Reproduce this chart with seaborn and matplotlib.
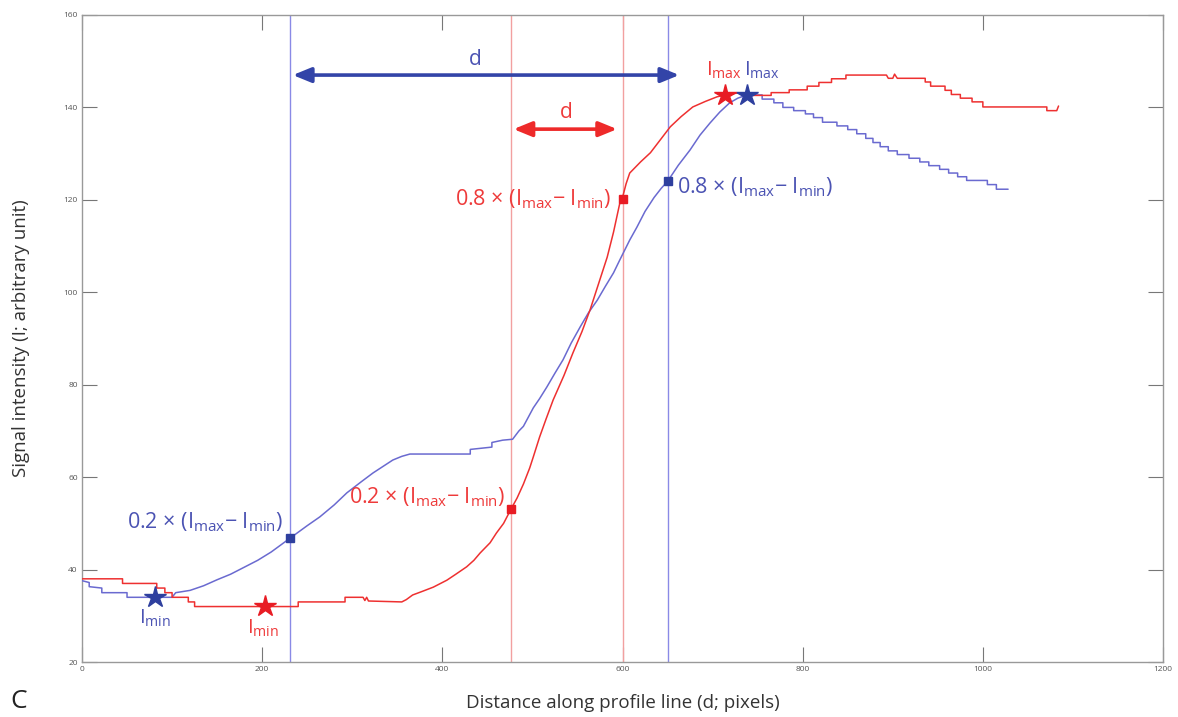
import matplotlib
matplotlib.use("Agg")
import matplotlib.pyplot as plt
import seaborn as sns
import pandas as pd

# Intensity profiles (distance in pixels, intensity in arbitrary units).
# Repeated x values give the vertical risers of the quantised profile.
blue_x = [0, 8, 8, 22, 22, 50, 50, 100, 104, 120, 135, 150, 165, 180, 195, 210,
          231, 250, 264, 280, 294, 310, 323, 345, 355, 364, 431, 431, 455, 455,
          467, 478, 485, 490, 501, 508, 516, 525, 534, 543, 553, 562, 572, 581,
          590, 597, 608, 616, 625, 635, 643, 650, 662, 675, 686, 697, 708, 719,
          728, 738, 748, 755, 755, 768, 768, 778, 778, 790, 790, 803, 803, 812,
          812, 822, 822, 838, 838, 850, 850, 860, 860, 870, 870, 878, 878, 886,
          886, 895, 895, 905, 905, 918, 918, 930, 930, 940, 940, 952, 952, 962,
          962, 972, 972, 982, 982, 1005, 1005, 1015, 1015, 1028]
blue_y = [37.6, 37.2, 36.3, 36, 35, 35, 34, 34, 35, 35.5, 36.5, 37.8, 39, 40.5, 42, 43.8,
          46.8, 49.5, 51.4, 54, 56.6, 59, 60.9, 63.7, 64.5, 65, 65, 66, 66.5, 67.5,
          68, 68.2, 70, 71, 75, 77, 79.5, 82.5, 85.4, 89, 92.5, 95.5, 98.3, 101.3,
          104.2, 107, 111.3, 114.1, 117.5, 120.5, 122.5, 124, 127.5, 130.8, 134, 136.6, 139, 141,
          142, 142.7, 142.7, 142.7, 141.8, 141.8, 141, 141, 140, 140, 139.3, 139.3, 138.6, 138.6,
          137.8, 137.8, 136.8, 136.8, 136, 136, 135.2, 135.2, 134.3, 134.3, 133.3, 133.3, 132.4, 132.4,
          131.5, 131.5, 130.6, 130.6, 129.8, 129.8, 129, 129, 128.2, 128.2, 127.4, 127.4, 126.6, 126.6,
          125.8, 125.8, 125, 125, 124.2, 124.2, 123.3, 123.3, 122.3, 122.3]

red_x = [0, 45, 45, 83, 83, 92, 92, 100, 100, 118, 118, 125, 125, 240, 240, 292,
         292, 312, 314, 316, 318, 355, 360, 367, 378, 390, 405, 415, 427, 435, 442,
         453, 460, 468, 476, 483, 490, 497, 501, 508, 515, 523, 535, 545, 555, 564,
         572, 583, 590, 597, 600, 604, 608, 620, 631, 642, 653, 665, 678, 692, 705,
         714, 727, 745, 745, 765, 765, 785, 785, 805, 805, 818, 818, 832, 832, 848,
         848, 893, 895, 900, 902, 905, 936, 936, 942, 942, 958, 958, 965, 965, 975,
         975, 988, 988, 1000, 1000, 1071, 1071, 1082, 1084]
red_y = [38, 38, 37, 37, 36, 36, 35, 35, 34, 34, 33, 33, 32, 32, 33, 33,
         34, 34, 33.3, 34, 33.2, 33, 33.5, 34.5, 35.3, 36.2, 37.7, 39, 40.6, 42, 43.6,
         45.8, 47.9, 50, 53, 55.5, 58.5, 62, 64.4, 68.7, 72.5, 76.7, 82, 86.9, 91.5, 96.2,
         101, 107.6, 113, 119.3, 120.5, 123.5, 125.8, 128.2, 130.2, 133, 135.8, 138, 140.1, 141.3, 142.3,
         142.7, 143.1, 143, 142.6, 142.6, 143.2, 143.2, 143.8, 143.8, 144.6, 144.6, 145.4, 145.4, 146.2, 146.2,
         147, 147, 146.3, 146.3, 147.2, 146.3, 146.3, 145.5, 145.5, 144.6, 144.6, 143.7, 143.7, 142.8, 142.8,
         142, 142, 141.2, 141.2, 140.1, 140.1, 139.3, 139.3, 140.3]

# Extremes and 20 % / 80 % crossing points
blue_min = (81, 34.1)
blue_max = (738, 142.7)
red_min = (203, 32.1)
red_max = (714, 142.7)
blue_p20 = (231, 46.8)
blue_p80 = (650, 124.1)
red_p20 = (476, 53.1)
red_p80 = (600, 120.2)

x_ticks = [0, 200, 400, 600, 800, 1000, 1200]
y_ticks = [20, 40, 60, 80, 100, 120, 140, 160]

BLUE_LINE = "#6a6ad0"
BLUE_MARK = "#2e3f9e"
BLUE_TEXT = "#4b53b3"
RED_LINE = "#ee3030"
RED_MARK = "#e81c24"
RED_TEXT = "#ee3a3a"

sns.set_style("white")
plt.rcParams["font.family"] = ["Open Sans", "DejaVu Sans"]
plt.rcParams["mathtext.default"] = "regular"

fig = plt.figure(figsize=(11.78, 7.17), dpi=100)
ax = fig.add_axes([0.0696, 0.0767, 0.9177, 0.9024])

blue_df = pd.DataFrame({"d": blue_x, "I": blue_y})
red_df = pd.DataFrame({"d": red_x, "I": red_y})
sns.lineplot(data=blue_df, x="d", y="I", ax=ax, color=BLUE_LINE, lw=1.1,
             sort=False, estimator=None, zorder=3)
sns.lineplot(data=red_df, x="d", y="I", ax=ax, color=RED_LINE, lw=1.1,
             sort=False, estimator=None, zorder=3)

# Boundaries of the transition zone
ax.axvline(blue_p20[0], color="#8a8ae6", lw=1.0, zorder=2)
ax.axvline(blue_p80[0], color="#8a8ae6", lw=1.0, zorder=2)
ax.axvline(red_p20[0], color="#f2a0a0", lw=1.0, zorder=2)
ax.axvline(red_p80[0], color="#f2a0a0", lw=1.0, zorder=2)

# Extremes (stars) and crossing points (squares)
ax.plot(*blue_min, marker="*", ms=16, color=BLUE_MARK, zorder=5)
ax.plot(*blue_max, marker="*", ms=16, color=BLUE_MARK, zorder=5)
ax.plot(*red_min, marker="*", ms=16, color=RED_MARK, zorder=5)
ax.plot(*red_max, marker="*", ms=16, color=RED_MARK, zorder=5)
for p in (blue_p20, blue_p80):
    ax.plot(*p, marker="s", ms=6, color=BLUE_MARK, zorder=5)
for p in (red_p20, red_p80):
    ax.plot(*p, marker="s", ms=6, color=RED_MARK, zorder=5)

# Width arrows
ax.annotate("", xy=(blue_p20[0] + 3, 147), xytext=(blue_p80[0] + 13, 147),
            arrowprops=dict(arrowstyle="<|-|>,head_length=1.1,head_width=0.45",
                            color="#3344a8", lw=2.6, shrinkA=0, shrinkB=0))
ax.annotate("", xy=(red_p20[0] + 3, 135.3), xytext=(red_p80[0] - 6, 135.3),
            arrowprops=dict(arrowstyle="<|-|>,head_length=1.1,head_width=0.45",
                            color="#ee2a2a", lw=2.6, shrinkA=0, shrinkB=0))
ax.text(436, 150.3, "d", color=BLUE_TEXT, fontsize=15, ha="center", va="center")
ax.text(537, 138.8, "d", color=RED_TEXT, fontsize=15, ha="center", va="center")

fs = 15.5
lab = " × (I$_{max}$− I$_{min}$)"
ax.text(223, 50.3, "0.2" + lab, color=BLUE_TEXT, fontsize=fs, ha="right", va="center")
ax.text(470, 55.7, "0.2" + lab, color=RED_TEXT, fontsize=fs, ha="right", va="center")
ax.text(588, 120.2, "0.8" + lab, color=RED_TEXT, fontsize=fs, ha="right", va="center")
ax.text(661, 122.8, "0.8" + lab, color=BLUE_TEXT, fontsize=fs, ha="left", va="center")
ax.text(81, 29.4, "I$_{min}$", color=BLUE_TEXT, fontsize=14.5, ha="center", va="center")
ax.text(201, 27.2, "I$_{min}$", color=RED_TEXT, fontsize=14.5, ha="center", va="center")
ax.text(712, 148.0, "I$_{max}$", color=RED_TEXT, fontsize=14.5, ha="center", va="center")
ax.text(755, 148.0, "I$_{max}$", color=BLUE_TEXT, fontsize=14.5, ha="center", va="center")

ax.set_xlim(0, 1200)
ax.set_ylim(20, 160)
ax.set_xticks(x_ticks)
ax.set_yticks(y_ticks)
ax.tick_params(direction="in", length=11, width=0.8, color="#777777",
               labelsize=6, labelcolor="#555555", top=True, right=True,
               bottom=True, left=True, pad=3)
for s in ax.spines.values():
    s.set_color("#999999")
    s.set_linewidth(1.0)

ax.set_xlabel("Distance along profile line (d; pixels)", fontsize=13.5, color="#333333", labelpad=15)
ax.set_ylabel("Signal intensity (I; arbitrary unit)", fontsize=13.5, color="#333333", labelpad=24)
fig.text(0.009, 0.004, "C", fontsize=19, color="#222222", ha="left", va="bottom")

fig.savefig("out.png", dpi=100)
